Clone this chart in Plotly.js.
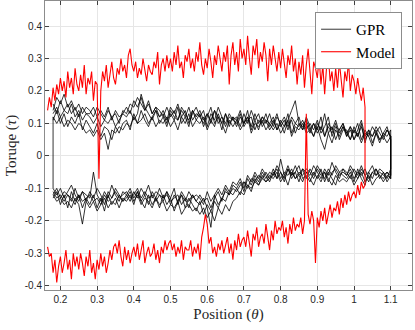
<!DOCTYPE html>
<html>
<head>
<meta charset="utf-8">
<script src="https://cdn.plot.ly/plotly-3.0.1.min.js"></script>
<style>html,body{margin:0;padding:0;background:#fff;}#plot{width:415px;height:330px;}</style>
</head>
<body>
<div id="plot"></div>
<script>
// Position samples for the GPR loops (theta)
var xGpr = [.18,.19,.20,.21,.22,.23,.24,.25,.26,.27,.28,.29,.30,.31,.32,.33,.34,.35,.36,.37,.38,.39,.40,.41,.42,.43,.44,.45,.46,.47,.48,.49,.50,.51,.52,.53,.54,.55,.56,.57,.58,.59,.60,.61,.62,.63,.64,.65,.66,.67,.68,.69,.70,.71,.72,.73,.74,.75,.76,.77,.78,.79,.80,.81,.82,.83,.84,.85,.86,.87,.88,.89,.90,.91,.92,.93,.94,.95,.96,.97,.98,.99,1.00,1.01,1.02,1.03,1.04,1.05,1.06,1.07,1.08,1.09,1.10];

// GPR torque, five cycles: forward (top) and return (bottom) branches
var gprTop1 = [.14,.18,.16,.19,.15,.17,.14,.16,.13,.15, .14,.12,.15,.13,.11,.14,.12,.13,.10,.14, .13,.16,.15,.18,.16,.14,.17,.13,.15,.12, .14,.11,.15,.13,.16,.12,.14,.10,.13,.15, .12,.14,.09,.13,.11,.15,.12,.10,.13,.11, .12,.09,.13,.10,.14,.11,.08,.12,.10,.13, .09,.12,.10,.07,.11,.14,.17,.10,.08,.12, .09,.06,.10,.08,.13,.07,.09,.05,.08,.10, .07,.09,.05,.08,.11,.06,.08,.04,.07,.09, .06,.08,.06];
var gprBot1 = [-.10,-.12,-.10,-.13,-.11,-.09,-.12,-.14,-.11,-.12, -.13,-.05,-.12,-.14,-.11,-.13,-.09,-.12,-.14,-.11, -.12,-.10,-.13,-.11,-.14,-.12,-.09,-.13,-.11,-.12, -.14,-.11,-.13,-.10,-.15,-.12,-.14,-.11,-.13,-.12, -.13,-.15,-.11,-.14,-.12,-.10,-.12,-.09,-.11,-.08, -.09,-.07,-.10,-.06,-.08,-.05,-.07,-.04,-.06,-.08, -.05,-.07,-.01,-.06,-.03,-.06,-.05,-.08,-.04,-.05, -.06,-.03,-.05,-.07,-.04,-.06,-.02,-.05,-.07,-.04, -.05,-.07,-.04,-.06,-.03,-.06,-.08,-.05,-.04,-.06, -.07,-.05,-.06];
var gprTop2 = [.12,.10,.12,.09,.11,.10,.08,.10,.09,.07, .08,.06,.08,.05,.07,.02,.08,.07,.09,.08, .10,.09,.12,.10,.11,.13,.10,.12,.09,.11, .10,.12,.09,.11,.08,.12,.10,.13,.09,.11, .10,.12,.08,.11,.09,.13,.10,.07,.11,.09, .11,.08,.10,.12,.07,.10,.09,.11,.08,.10, .08,.10,.07,.09,.11,.06,.09,.08,.10,.07, .08,.06,.09,.05,.02,.07,.04,.08,.06,.09, .06,.08,.05,.07,.04,.07,.06,.03,.07,.05, .06,.04,.06];
var gprBot2 = [-.12,-.14,-.13,-.15,-.14,-.16,-.13,-.15,-.21,-.14, -.16,-.14,-.17,-.15,-.13,-.16,-.14,-.15,-.12,-.14, -.13,-.11,-.14,-.12,-.15,-.13,-.14,-.16,-.13,-.15, -.14,-.17,-.15,-.16,-.14,-.18,-.16,-.15,-.17,-.16, -.18,-.16,-.19,-.17,-.20,-.16,-.18,-.15,-.17,-.14, -.13,-.11,-.12,-.09,-.10,-.08,-.09,-.07,-.08,-.06, -.07,-.05,-.08,-.06,-.09,-.05,-.07,-.06,-.08,-.05, -.07,-.09,-.06,-.08,-.05,-.07,-.09,-.06,-.08,-.07, -.08,-.06,-.09,-.07,-.05,-.08,-.06,-.09,-.07,-.06, -.08,-.06,-.07];
var gprTop3 = [.13,.15,.12,.14,.13,.16,.12,.14,.11,.13, .12,.10,.12,.09,.11,.10,.12,.09,.11,.13, .12,.14,.11,.13,.19,.15,.13,.11,.14,.12, .13,.10,.14,.12,.11,.14,.12,.15,.11,.13, .12,.10,.13,.11,.14,.10,.12,.09,.12,.11, .10,.13,.09,.11,.12,.08,.11,.10,.13,.09, .11,.08,.10,.12,.09,.11,.07,.10,.09,.11, .08,.10,.07,.09,.06,.10,.08,.11,.07,.09, .07,.05,.08,.06,.09,.05,.07,.06,.08,.05, .07,.06,.08];
var gprBot3 = [-.11,-.13,-.12,-.14,-.12,-.13,-.15,-.12,-.14,-.13, -.12,-.14,-.13,-.15,-.12,-.14,-.13,-.11,-.13,-.12, -.11,-.13,-.12,-.10,-.13,-.11,-.13,-.12,-.14,-.12, -.13,-.12,-.14,-.13,-.12,-.15,-.13,-.14,-.12,-.14, -.15,-.13,-.16,-.22,-.12,-.15,-.13,-.11,-.12,-.10, -.11,-.09,-.08,-.10,-.07,-.08,-.06,-.07,-.05,-.07, -.06,-.04,-.07,-.05,-.06,-.04,-.07,-.05,-.06,-.04, -.05,-.07,-.04,-.06,-.05,-.08,-.05,-.04,-.06,-.05, -.06,-.04,-.07,-.05,-.06,-.04,-.07,-.05,-.06,-.05, -.06,-.05,-.07];
var gprTop4 = [.11,.14,.10,.13,.09,.12,.10,.13,.08,.11, .09,.07,.10,.06,.09,.08,.05,.09,.07,.10, .11,.08,.13,.10,.14,.11,.09,.12,.14,.10, .12,.09,.13,.11,.15,.10,.12,.09,.14,.11, .13,.09,.12,.15,.10,.12,.08,.13,.10,.12, .09,.12,.10,.14,.08,.11,.13,.09,.11,.10, .12,.08,.11,.09,.13,.07,.10,.12,.08,.10, .07,.10,.08,.12,.06,.09,.07,.10,.05,.08, .08,.05,.09,.06,.10,.04,.08,.06,.09,.07, .05,.08,.06];
var gprBot4 = [-.13,-.11,-.15,-.12,-.16,-.11,-.14,-.12,-.16,-.13, -.15,-.12,-.16,-.13,-.17,-.12,-.15,-.13,-.16,-.13, -.14,-.12,-.15,-.11,-.14,-.16,-.12,-.15,-.13,-.16, -.12,-.15,-.13,-.17,-.14,-.12,-.16,-.13,-.15,-.17, -.14,-.18,-.15,-.17,-.14,-.16,-.13,-.14,-.11,-.12, -.10,-.12,-.08,-.09,-.11,-.07,-.09,-.06,-.08,-.07, -.04,-.07,-.05,-.08,-.04,-.07,-.05,-.03,-.07,-.06, -.08,-.05,-.07,-.04,-.08,-.05,-.07,-.09,-.05,-.06, -.07,-.05,-.08,-.04,-.07,-.09,-.05,-.07,-.04,-.07, -.05,-.08,-.06];
var gprTop5 = [.16,.13,.17,.14,.16,.13,.15,.12,.15,.13, .13,.15,.12,.14,.12,.15,.11,.14,.12,.13, .15,.13,.17,.15,.18,.14,.16,.13,.15,.14, .12,.15,.12,.14,.11,.15,.13,.11,.14,.12, .14,.11,.13,.10,.14,.12,.10,.13,.09,.12, .11,.14,.10,.12,.09,.13,.10,.12,.11,.08, .10,.13,.09,.11,.08,.12,.10,.09,.11,.08, .10,.08,.11,.07,.09,.12,.06,.09,.08,.10, .06,.09,.07,.10,.05,.08,.06,.09,.07,.04, .07,.09,.05];
var gprBot5 = [-.12,-.10,-.13,-.11,-.12,-.14,-.10,-.13,-.11,-.14, -.11,-.13,-.10,-.12,-.15,-.11,-.13,-.10,-.12,-.14, -.12,-.14,-.11,-.13,-.10,-.12,-.15,-.11,-.13,-.10, -.13,-.11,-.15,-.12,-.14,-.11,-.13,-.16,-.12,-.14, -.12,-.14,-.13,-.16,-.13,-.11,-.14,-.10,-.12,-.09, -.10,-.08,-.11,-.07,-.09,-.06,-.08,-.05,-.07,-.05, -.06,-.03,-.05,-.07,-.04,-.06,-.03,-.06,-.04,-.07, -.04,-.06,-.03,-.05,-.07,-.04,-.06,-.03,-.05,-.04, -.06,-.03,-.05,-.07,-.04,-.06,-.05,-.03,-.06,-.04, -.05,-.07,-.04];

// Position samples for the model
var xModel = [.165,.17,.175,.18,.185,.19,.195, .2,.205,.21,.215,.22,.225,.23,.235,.24,.245, .25,.255,.26,.265,.27,.275,.28,.285,.29,.295, .3,.305,.31,.315,.32,.325,.33,.335,.34,.345, .35,.355,.36,.365,.37,.375,.38,.385,.39,.395, .4,.405,.41,.415,.42,.425,.43,.435,.44,.445, .45,.455,.46,.465,.47,.475,.48,.485,.49,.495, .5,.505,.51,.515,.52,.525,.53,.535,.54,.545, .55,.555,.56,.565,.57,.575,.58,.585,.59,.595, .6,.605,.61,.615,.62,.625,.63,.635,.64,.645, .65,.655,.66,.665,.67,.675,.68,.685,.69,.695, .7,.705,.71,.715,.72,.725,.73,.735,.74,.745, .75,.755,.76,.765,.77,.775,.78,.785,.79,.795, .8,.805,.81,.815,.82,.825,.83,.835,.84,.845, .85,.855,.86,.865,.87,.875,.88,.885,.89,.895, .9,.905,.91,.915,.92,.925,.93,.935,.94,.945, .95,.955,.96,.965,.97,.975,.98,.985,.99,.995, 1.0,1.005,1.01,1.015,1.02,1.025,1.03];
// Model torque: forward (top) and return (bottom) branches
var modelTop = [.14,.18,.15,.21,.17,.22,.19, .24,.20,.23,.18,.26,.21,.24,.19,.27,.22, .20,.25,.21,.28,.19,.24,.22,.26,.17,.23, .22,-.07,.20,.26,.23,.28,.21,.25,.29,.24, .22,.27,.25,.30,.26,.28,.24,.31,.33,.28, .26,.29,.24,.27,.25,.30,.27,.23,.28,.26, .25,.29,.27,.32,.22,.28,.30,.26,.31,.27, .30,.26,.32,.28,.34,.27,.29,.24,.31,.29, .33,.27,.30,.26,.32,.29,.35,.28,.25,.30, .27,.33,.29,.24,.31,.28,.34,.30,.26,.32, .29,.34,.22,.31,.35,.28,.32,.26,.36,.30, .33,.28,.37,.30,.25,.34,.31,.36,.27,.32, .29,.35,.31,.23,.33,.28,.34,.30,.26,.32, .27,.33,.29,.24,.31,.28,.34,.26,.30,.22, .29,.25,.31,.21,.28,.33,.26,.19,.29,.27, .24,.30,.22,.28,.19,.27,.31,.23,.26,.20, .27,.21,.29,.24,.18,.26,.23,.29,.20,.25, .23,.19,.24,.20,.17,.21,.15];
var modelBot = [-.28,-.31,-.30,-.36,-.32,-.39,-.34, -.31,-.36,-.33,-.29,-.35,-.32,-.38,-.30,-.34,-.31, -.35,-.30,-.33,-.37,-.31,-.34,-.29,-.36,-.33,-.38, -.32,-.35,-.30,-.34,-.31,-.36,-.33,-.29,-.32,-.28, -.27,-.30,-.26,-.31,-.34,-.28,-.32,-.29,-.33,-.30, -.28,-.31,-.27,-.32,-.29,-.26,-.33,-.30,-.28,-.31, -.30,-.27,-.32,-.29,-.33,-.28,-.30,-.26,-.29,-.27, -.26,-.29,-.27,-.31,-.28,-.30,-.26,-.32,-.28,-.29, -.29,-.26,-.31,-.28,-.30,-.27,-.32,-.25,-.22,-.18, -.21,-.27,-.25,-.30,-.28,-.31,-.27,-.29,-.26,-.30, -.28,-.25,-.30,-.27,-.32,-.26,-.29,-.24,-.28,-.26, -.25,-.28,-.23,-.27,-.31,-.24,-.26,-.22,-.28,-.25, -.24,-.27,-.21,-.25,-.29,-.23,-.26,-.20,-.24,-.22, -.23,-.20,-.25,-.22,-.27,-.21,-.24,-.19,-.23,-.21, -.22,-.19,-.24,-.20,.13,-.18,-.21,-.17,-.20,-.33, -.19,-.22,-.17,-.20,-.16,-.21,-.18,-.15,-.19,-.16, -.17,-.14,-.18,-.13,-.16,-.12,-.15,-.11,-.14,-.12, -.11,-.13,-.09,-.12,-.08,-.10,-.09];

var xTickVals = [0.2,0.3,0.4,0.5,0.6,0.7,0.8,0.9,1.0,1.1];
var xTickText = ['0.2','0.3','0.4','0.5','0.6','0.7','0.8','0.9','1','1.1'];
var yTickVals = [-0.4,-0.3,-0.2,-0.1,0,0.1,0.2,0.3,0.4];
var yTickText = ['-0.4','-0.3','-0.2','-0.1','0','0.1','0.2','0.3','0.4'];

// Assemble loops: forward along top, then back along bottom
function loop(x, top, bot) {
  return { x: x.concat(x.slice().reverse()), y: top.concat(bot.slice().reverse()) };
}
var c1 = loop(xGpr, gprTop1, gprBot1);
var c2 = loop(xGpr, gprTop2, gprBot2);
var c3 = loop(xGpr, gprTop3, gprBot3);
var c4 = loop(xGpr, gprTop4, gprBot4);
var c5 = loop(xGpr, gprTop5, gprBot5);
var m = loop(xModel, modelTop, modelBot);

var gx = c1.x.concat(c2.x, [null], c3.x, [null], c4.x, [null], c5.x);
var gy = c1.y.concat(c2.y, [null], c3.y, [null], c4.y, [null], c5.y);

var traces = [
  { x: gx, y: gy, type: 'scatter', mode: 'lines', connectgaps: false,
    name: 'GPR', line: { color: '#000000', width: 0.8 } },
  { x: m.x, y: m.y, type: 'scatter', mode: 'lines',
    name: 'Model', line: { color: '#ff0000', width: 1.1 } }
];

var axisCommon = {
  ticks: 'inside', ticklen: 4, tickwidth: 1, tickcolor: '#404040',
  mirror: 'allticks', showline: true, linecolor: '#8c8c8c', linewidth: 1,
  showgrid: true, gridcolor: '#e6e6e6', gridwidth: 1, zeroline: false,
  tickfont: { family: 'Liberation Sans, Arial, sans-serif', size: 10, color: '#262626' }
};

var layout = {
  width: 415, height: 330,
  margin: { l: 45, r: 3, t: 1, b: 40 },
  paper_bgcolor: '#ffffff', plot_bgcolor: '#ffffff',
  showlegend: true,
  xaxis: Object.assign({}, axisCommon, {
    range: [0.158, 1.158], tickmode: 'array', tickvals: xTickVals, ticktext: xTickText,
    title: { text: 'Position (<i>θ</i>)', standoff: 4,
      font: { family: 'Liberation Serif, serif', size: 15, color: '#262626' } }
  }),
  yaxis: Object.assign({}, axisCommon, {
    range: [-0.413, 0.477], tickmode: 'array', tickvals: yTickVals, ticktext: yTickText,
    title: { text: 'Toruqe (<i>τ</i>)', standoff: 4,
      font: { family: 'Liberation Serif, serif', size: 15, color: '#262626' } }
  }),
  legend: {
    x: 0.973, y: 0.962, xanchor: 'right', yanchor: 'top',
    bgcolor: '#ffffff', bordercolor: '#8c8c8c', borderwidth: 1,
    font: { family: 'Liberation Serif, serif', size: 15, color: '#000000' },
    tracegroupgap: 0
  }
};

Plotly.newPlot('plot', traces, layout, { staticPlot: true, displayModeBar: false });
</script>
</body>
</html>
